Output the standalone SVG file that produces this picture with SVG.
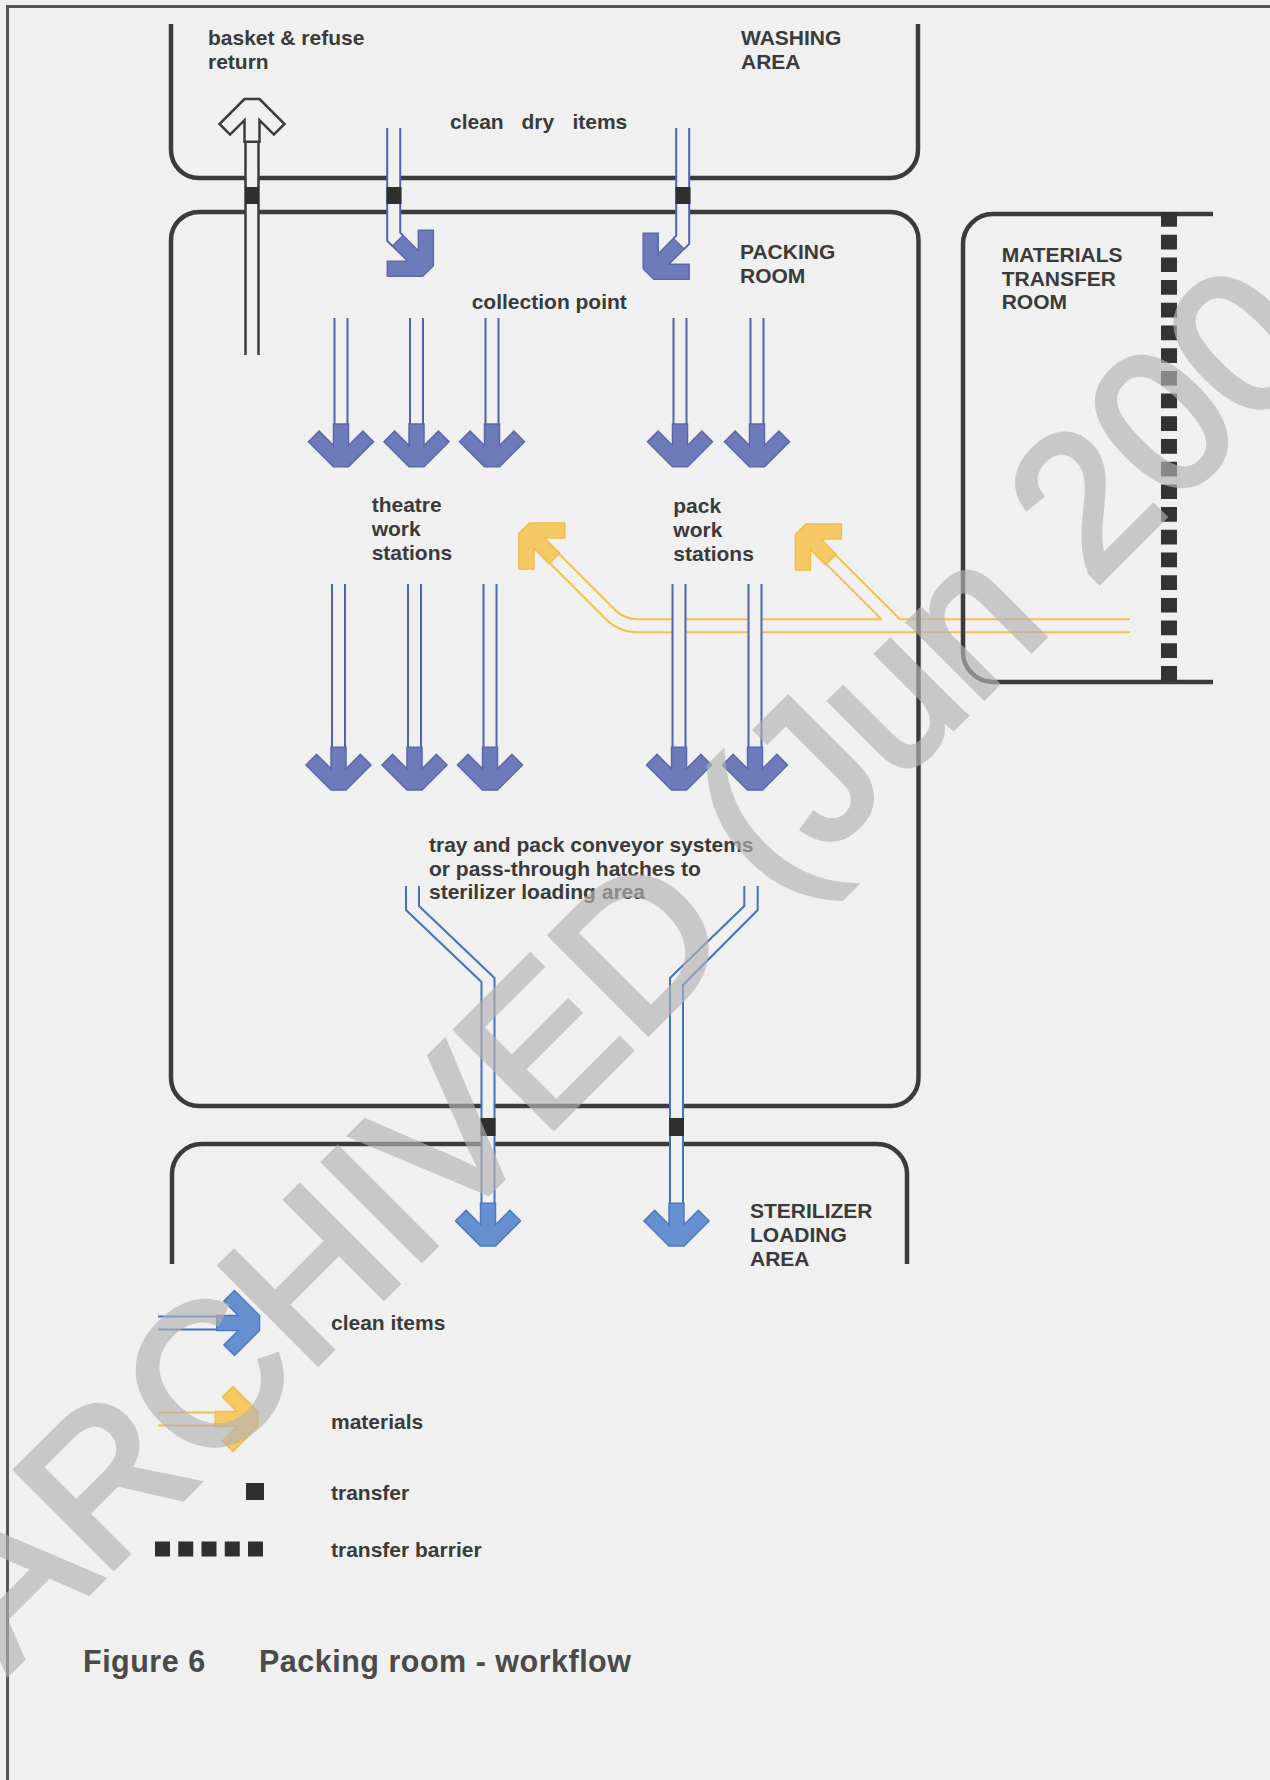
<svg xmlns="http://www.w3.org/2000/svg" xmlns:xlink="http://www.w3.org/1999/xlink" width="1270" height="1780" viewBox="0 0 1270 1780">
  <style>
    .wall { fill: none; stroke: #3b3b3b; stroke-width: 4.5; }
    .lbl { font-family: "Liberation Sans", Arial, Helvetica, sans-serif; font-weight: bold; font-size: 21px; fill: #3a3a3a; }
    .cap { font-family: "Liberation Sans", Arial, Helvetica, sans-serif; font-weight: bold; font-size: 30.5px; fill: #4a4a4a; letter-spacing: 0.5px; }
    .room { fill: #6e7bbb; stroke: #5a68ab; stroke-width: 1.5; }
    .conv { fill: #6790d0; stroke: #4b78c2; stroke-width: 1.5; }
    .mat { fill: #f5c964; stroke: #f0bd48; stroke-width: 1.5; }
    .hollow { fill: #f0f0f0; stroke: #3b3b3b; stroke-width: 2.5; }
    .bline { fill: none; stroke: #4f64ae; stroke-width: 2; }
    .cline { fill: none; stroke: #4472bd; stroke-width: 2; }
    .yline { fill: none; stroke: #f1c14c; stroke-width: 2; }
    .gline { fill: none; stroke: #3b3b3b; stroke-width: 2.5; }
    .bg { fill: #f0f0f0; }
    .xfer { fill: #2f2f2f; }
    .mark { font-family: "Liberation Sans", Arial, Helvetica, sans-serif; font-size: 200px; fill: #b4b4b4; stroke: #b4b4b4; stroke-width: 6; opacity: 0.65; }
  </style>
  <defs>
    <!-- arrow head with its filled stub of shaft; points down, tip at origin -->
    <path id="hd" d="M-7.5 -42.7V-21.2L-21.9 -35.6L-32.5 -25L-7.5 0H7.5L32.5 -25L21.9 -35.6L7.5 -21.2V-42.7Z"/>
  </defs>

  <rect width="1270" height="1780" fill="#f0f0f0"/>

  <!-- page frame -->
  <path d="M7 6.5H1270M7.5 5V1780" fill="none" stroke="#555" stroke-width="3"/>

  <!-- materials band (beneath the walls and the clean-item shafts) -->
  <g id="materials-flow">
    <path class="yline" d="M559 553.9L614.6 609.5A33.5 33.5 0 0 0 638.3 619.3H881.5M899.9 619.3H1130"/>
    <path class="yline" d="M549.8 563.1L605.4 618.7A46.5 46.5 0 0 0 638.3 632.3H1130"/>
    <path class="yline" d="M826.3 564.1L881.5 619.3M835.5 554.9L899.9 619.3"/>
    <use xlink:href="#hd" class="mat" transform="translate(524.2 528.3) rotate(135)"/>
    <use xlink:href="#hd" class="mat" transform="translate(800.7 529.3) rotate(135)"/>
  </g>

  <!-- rooms -->
  <g id="washing-area">
    <path class="wall" d="M171 24V150A28 28 0 0 0 199 178H890A28 28 0 0 0 918 150V24"/>
    <text class="lbl" x="208" y="45">basket &amp; refuse</text>
    <text class="lbl" x="208" y="69">return</text>
    <text class="lbl" x="741" y="45">WASHING</text>
    <text class="lbl" x="741" y="69">AREA</text>
    <text class="lbl" y="129.3"><tspan x="450">clean</tspan><tspan x="521.4">dry</tspan><tspan x="572.4">items</tspan></text>
  </g>

  <g id="packing-room">
    <rect class="wall" x="171" y="212" width="747.5" height="894" rx="28"/>
    <text class="lbl" x="740" y="259.3">PACKING</text>
    <text class="lbl" x="740" y="283.3">ROOM</text>
    <text class="lbl" x="471.7" y="309">collection point</text>
    <text class="lbl" x="371.7" y="512.3">theatre</text>
    <text class="lbl" x="371.7" y="536">work</text>
    <text class="lbl" x="371.7" y="560">stations</text>
    <text class="lbl" x="673.3" y="513">pack</text>
    <text class="lbl" x="673.3" y="537">work</text>
    <text class="lbl" x="673.3" y="561">stations</text>
    <text class="lbl" x="429" y="851.7">tray and pack conveyor systems</text>
    <text class="lbl" x="429" y="875.7">or pass-through hatches to</text>
    <text class="lbl" x="429" y="899.3">sterilizer loading area</text>
  </g>

  <g id="materials-transfer-room">
    <path class="wall" d="M1213 214H993A30 30 0 0 0 963 244V652A30 30 0 0 0 993 682H1213"/>
    <path d="M1169 212V684" fill="none" stroke="#333" stroke-width="16" stroke-dasharray="14.7 8"/>
    <text class="lbl" x="1001.7" y="261.7">MATERIALS</text>
    <text class="lbl" x="1001.7" y="285.7">TRANSFER</text>
    <text class="lbl" x="1001.7" y="309">ROOM</text>
  </g>

  <g id="sterilizer-loading-area">
    <path class="wall" d="M172 1264V1174A30 30 0 0 1 202 1144H877A30 30 0 0 1 907 1174V1264"/>
    <text class="lbl" x="750" y="1218.3">STERILIZER</text>
    <text class="lbl" x="750" y="1242.3">LOADING</text>
    <text class="lbl" x="750" y="1265.7">AREA</text>
  </g>

  <!-- flows -->
  <g id="connectors">
    <!-- basket & refuse return (hollow arrow) -->
    <g id="return-flow">
      <rect class="bg" x="245.5" y="141.7" width="13" height="213.3"/>
      <path class="gline" d="M245.5 141.7V355M258.5 141.7V355"/>
      <use xlink:href="#hd" class="hollow" transform="translate(252 99) rotate(180)"/>
      <rect class="xfer" x="245" y="187" width="14" height="17"/>
    </g>

    <!-- clean dry items into the collection point -->
    <g id="clean-in-left">
      <polygon class="bg" points="387.2,128 400.2,128 400.2,232.6 403.1,235.5 392.5,246.1 387.2,240.8"/>
      <path class="bline" d="M387.2 128V240.8L392.5 246.1M400.2 128V232.6L403.1 235.5"/>
      <use xlink:href="#hd" class="room" transform="translate(428 271) rotate(-45)"/>
      <rect class="xfer" x="386.5" y="187" width="15" height="17"/>
    </g>
    <g id="clean-in-right">
      <polygon class="bg" points="676.2,128 689.2,128 689.2,243.9 684,249.1 673.4,238.5 676.2,235.7"/>
      <path class="bline" d="M676.2 128V235.7L673.4 238.5M689.2 128V243.9L684 249.1"/>
      <use xlink:href="#hd" class="room" transform="translate(648.5 274) rotate(45)"/>
      <rect class="xfer" x="675.5" y="187" width="15" height="17"/>
    </g>

    <!-- collection point to work stations -->
    <g id="to-stations">
      <path class="bline" d="M334.5 318V424M347.5 318V424M410 318V424M423 318V424M485.5 318V424M498.5 318V424M673.5 318V424M686.5 318V424M750.5 318V424M763.5 318V424"/>
      <use xlink:href="#hd" class="room" transform="translate(341 466.7)"/>
      <use xlink:href="#hd" class="room" transform="translate(416.5 466.7)"/>
      <use xlink:href="#hd" class="room" transform="translate(492 466.7)"/>
      <use xlink:href="#hd" class="room" transform="translate(680 466.7)"/>
      <use xlink:href="#hd" class="room" transform="translate(757 466.7)"/>
    </g>

    <!-- work stations to conveyors -->
    <g id="from-stations">
      <rect class="bg" x="672.5" y="584" width="13" height="163.3"/>
      <rect class="bg" x="748.5" y="584" width="13" height="163.3"/>
      <path class="bline" d="M332 584V747.3M345 584V747.3M408 584V747.3M421 584V747.3M483.5 584V747.3M496.5 584V747.3M672.5 584V747.3M685.5 584V747.3M748.5 584V747.3M761.5 584V747.3"/>
      <use xlink:href="#hd" class="room" transform="translate(338.5 790)"/>
      <use xlink:href="#hd" class="room" transform="translate(414.5 790)"/>
      <use xlink:href="#hd" class="room" transform="translate(490 790)"/>
      <use xlink:href="#hd" class="room" transform="translate(679 790)"/>
      <use xlink:href="#hd" class="room" transform="translate(755 790)"/>
    </g>

    <!-- conveyors / hatches to the sterilizer loading area -->
    <g id="conveyor-left">
      <rect class="bg" x="481.5" y="1090" width="13" height="113.3"/>
      <path class="cline" d="M406 886V910L481.5 982V1203.3M419 886V906L494.5 978V1203.3"/>
      <use xlink:href="#hd" class="conv" transform="translate(488 1246)"/>
      <rect class="xfer" x="480.5" y="1118" width="15" height="18"/>
    </g>
    <g id="conveyor-right">
      <rect class="bg" x="670" y="1090" width="13" height="113.3"/>
      <path class="cline" d="M744.3 886V906L670 978V1203.3M757.7 886V910L683 985V1203.3"/>
      <use xlink:href="#hd" class="conv" transform="translate(676.5 1246)"/>
      <rect class="xfer" x="669" y="1118" width="15" height="18"/>
    </g>
  </g>

  <!-- key -->
  <g id="legend">
    <path class="cline" d="M158 1316.5H216.8M158 1329.5H216.8"/>
    <use xlink:href="#hd" class="conv" transform="translate(259.5 1323) rotate(-90)"/>
    <text class="lbl" x="331" y="1330">clean items</text>

    <path class="yline" d="M158 1412.5H215.3M158 1425.5H215.3"/>
    <use xlink:href="#hd" class="mat" transform="translate(258 1419) rotate(-90)"/>
    <text class="lbl" x="331" y="1429">materials</text>

    <rect class="xfer" x="246" y="1483" width="18" height="17"/>
    <text class="lbl" x="331" y="1500">transfer</text>

    <rect class="xfer" x="155" y="1541.5" width="15" height="15"/>
    <rect class="xfer" x="178.25" y="1541.5" width="15" height="15"/>
    <rect class="xfer" x="201.5" y="1541.5" width="15" height="15"/>
    <rect class="xfer" x="224.75" y="1541.5" width="15" height="15"/>
    <rect class="xfer" x="248" y="1541.5" width="15" height="15"/>
    <text class="lbl" x="331" y="1557">transfer barrier</text>
  </g>

  <g id="caption">
    <text class="cap" x="83" y="1672">Figure 6</text>
    <text class="cap" x="259" y="1672">Packing room - workflow</text>
  </g>

  <!-- archive stamp across the sheet -->
  <text class="mark" transform="translate(8 1673) rotate(-45)">ARCHIVED (Jun 200</text>
</svg>
